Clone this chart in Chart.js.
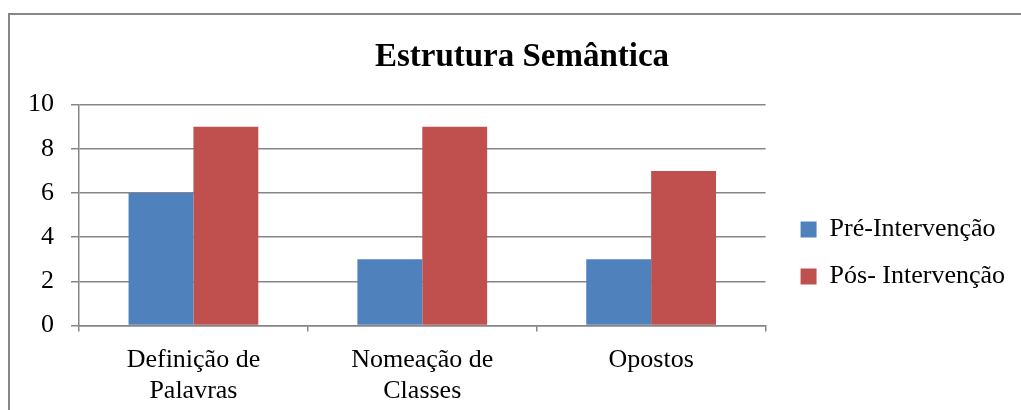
<!DOCTYPE html>
<html>
<head>
<meta charset="utf-8">
<script src="https://cdn.jsdelivr.net/npm/chart.js@4.4.0/dist/chart.umd.min.js"></script>
<style>
  html, body { margin: 0; padding: 0; background: #fff; }
  #wrap { position: relative; width: 1021px; height: 410px; }
</style>
</head>
<body>
<div id="wrap"><canvas id="chart"></canvas></div>
<script>
// Data
const categories = [["Definição de", "Palavras"], ["Nomeação de", "Classes"], "Opostos"];
const preValues = [6, 3, 3];
const posValues = [9, 9, 7];
const seriesNames = ["Pré-Intervenção", "Pós- Intervenção"];
const yTicks = [0, 2, 4, 6, 8, 10];

const serif = "'Liberation Serif', 'Times New Roman', serif";
const gridGray = "#868686";

// outer frame (top and left edge only, as in the picture)
const framePlugin = {
  id: "frame",
  beforeDraw(chart) {
    const ctx = chart.ctx;
    ctx.save();
    ctx.strokeStyle = gridGray;
    ctx.lineWidth = 2;
    ctx.beginPath();
    ctx.moveTo(9, 410);
    ctx.lineTo(9, 14);
    ctx.lineTo(1021, 14);
    ctx.stroke();
    ctx.restore();
  },
};

// nudge legend and title to where they sit in the picture
const boxShift = {
  id: "boxShift",
  afterLayout(chart) {
    const lg = chart.legend;
    lg.left += 14;
    lg.right += 14;
    lg.top += 43;
    lg.bottom += 43;
    const tb = chart.titleBlock;
    tb.left += 16;
    tb.right += 16;
  },
};

const ctx = document.getElementById("chart").getContext("2d");
new Chart(ctx, {
  type: "bar",
  data: {
    labels: categories,
    datasets: [
      {
        label: seriesNames[0],
        data: preValues,
        backgroundColor: "#4F81BD",
        categoryPercentage: 0.567,
        barPercentage: 1,
      },
      {
        label: seriesNames[1],
        data: posValues,
        backgroundColor: "#C0504D",
        categoryPercentage: 0.567,
        barPercentage: 1,
      },
    ],
  },
  options: {
    responsive: true,
    maintainAspectRatio: false,
    animation: false,
    layout: {
      padding: { left: 11, right: 20, top: 0, bottom: -10 },
    },
    plugins: {
      title: {
        display: true,
        text: "Estrutura Semântica",
        color: "#000",
        font: { family: serif, size: 33, weight: "bold", lineHeight: 1.2 },
        padding: { top: 38, bottom: 27 },
      },
      legend: {
        position: "right",
        align: "center",
        labels: {
          color: "#000",
          font: { family: serif, size: 26 },
          boxWidth: 16,
          boxHeight: 16,
          padding: 21,
        },
      },
      tooltip: { enabled: false },
    },
    scales: {
      x: {
        grid: {
          display: true,
          drawOnChartArea: false,
          drawTicks: true,
          tickLength: 6,
          offset: true,
          color: gridGray,
          lineWidth: 1.5,
        },
        border: { display: true, color: gridGray, width: 1.5 },
        ticks: {
          color: "#000",
          font: { family: serif, size: 26, lineHeight: 1.2 },
          padding: 13,
          maxRotation: 0,
          autoSkip: false,
        },
      },
      y: {
        min: 0,
        max: 10,
        afterBuildTicks(axis) {
          axis.ticks = yTicks.map((v) => ({ value: v }));
        },
        grid: {
          color: gridGray,
          lineWidth: 1.5,
          tickLength: 8,
        },
        border: { display: true, color: gridGray, width: 1.5 },
        ticks: {
          color: "#000",
          font: { family: serif, size: 26 },
          padding: 17,
        },
      },
    },
  },
  plugins: [framePlugin, boxShift],
});
</script>
</body>
</html>
